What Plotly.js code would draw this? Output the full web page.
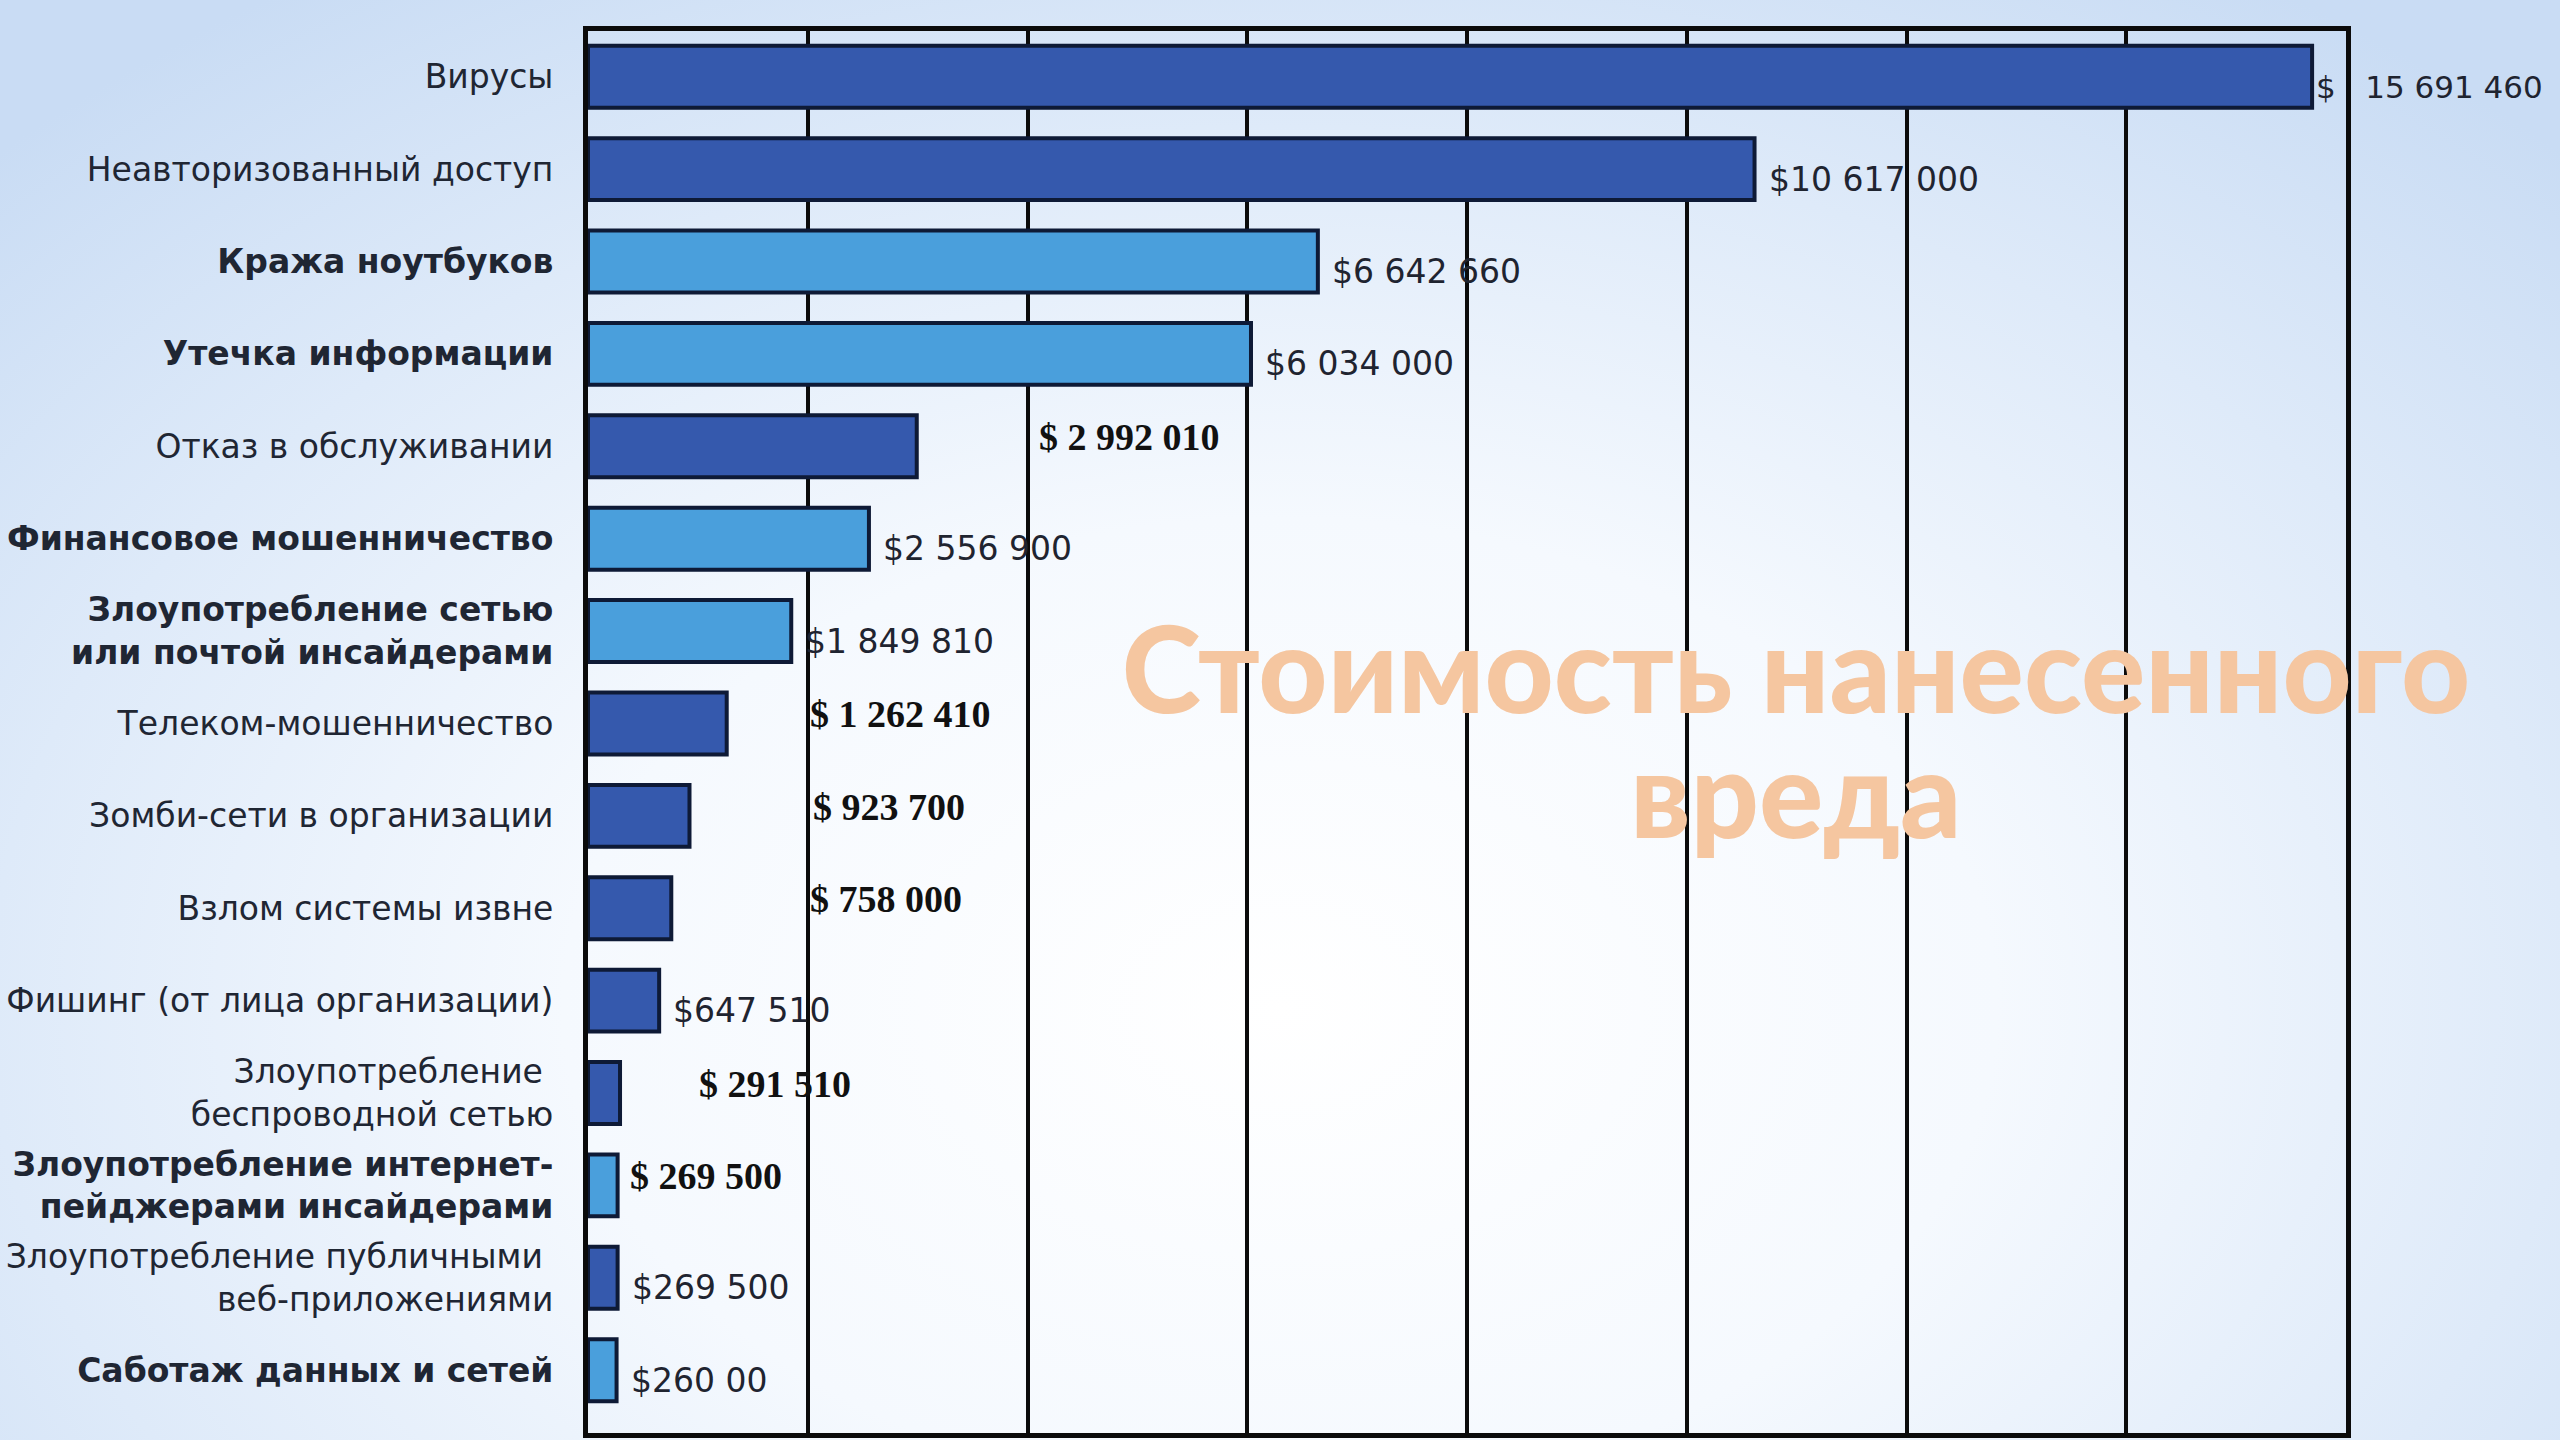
<!DOCTYPE html>
<html><head><meta charset="utf-8">
<script src="https://cdn.plot.ly/plotly-3.0.1.min.js"></script>
<style>
html,body{margin:0;padding:0;width:2560px;height:1440px;overflow:hidden;}
body{background: radial-gradient(ellipse 70% 85% at 50% 70%, #ffffff 0%, #f5f9fe 40%, #deeaf9 72%, #c9dcf4 100%);}
#chart{width:2560px;height:1440px;}
</style></head><body><div id="chart"></div>
<script>
// ---- data ----
const categories = [
  'Вирусы',
  'Неавторизованный доступ',
  'Кража ноутбуков',
  'Утечка информации',
  'Отказ в обслуживании',
  'Финансовое мошенничество',
  'Злоупотребление сетью<br>или почтой инсайдерами',
  'Телеком-мошенничество',
  'Зомби-сети в организации',
  'Взлом системы извне',
  'Фишинг (от лица организации)',
  'Злоупотребление <br>беспроводной сетью',
  'Злоупотребление интернет-<br>пейджерами инсайдерами',
  'Злоупотребление публичными <br>веб-приложениями',
  'Саботаж данных и сетей'
];
const values = [15691460, 10617000, 6642660, 6034000, 2992010, 2556900, 1849810,
                1262410, 923700, 758000, 647510, 291510, 269500, 269500, 260000];
const valueLabels = ['$\u00a0\u00a0\u00a015 691 460', '$10 617 000', '$6 642 660', '$6 034 000',
  '$ 2 992 010', '$2 556 900', '$1 849 810', '$ 1 262 410', '$ 923 700', '$ 758 000',
  '$647 510', '$ 291 510', '$ 269 500', '$269 500', '$260 00'];
const groups = ['a','a','b','b','a','b','b','a','a','a','a','a','b','a','b'];
const xTicks = [0, 2000000, 4000000, 6000000, 8000000, 10000000, 12000000, 14000000, 16000000];
const titleLine1 = 'Стоимость нанесенного';
const titleLine2 = 'вреда';

// ---- styling ----
const serifLabels = new Set([4, 7, 8, 9, 11, 12]);
// extra horizontal offsets (px) of the pasted serif labels, as in the original picture
const serifShift = {4: 120, 7: 81, 8: 122, 9: 137, 11: 77, 12: 10};
const colorFor = {a: '#3559ad', b: '#4a9fdc'};
const barColors = groups.map(g => colorFor[g]);
const tickText = categories.map((c, i) => groups[i] === 'b' ? '<b>' + c + '</b>' : c);

const trace = {
  type: 'bar',
  orientation: 'h',
  y: categories,
  x: values,
  marker: {color: barColors, line: {color: '#0e1a36', width: 4}},
  width: 0.67,
  hoverinfo: 'none'
};

const labelAnnotations = values.map((v, i) => {
  const serif = serifLabels.has(i);
  return {
    x: v, y: categories[i], xref: 'x', yref: 'y',
    text: serif ? '<b>' + valueLabels[i] + '</b>' : valueLabels[i],
    showarrow: false, xanchor: 'left', yanchor: 'middle',
    xshift: serif ? serifShift[i] : (i === 0 ? 2 : 12),
    yshift: serif ? 9 : -10,
    font: serif ? {family: 'Liberation Serif', size: 38, color: '#111111'}
                : {family: 'DejaVu Sans', size: i === 0 ? 31 : 33, color: '#1f2430'}
  };
});

const layout = {
  width: 2560, height: 1440,
  margin: {l: 588, r: 214, t: 31, b: 7},
  paper_bgcolor: 'rgba(0,0,0,0)',
  plot_bgcolor: 'rgba(0,0,0,0)',
  showlegend: false,
  font: {family: 'DejaVu Sans', color: '#1f2633'},
  xaxis: {
    range: [0, 16000000], tickvals: xTicks, showticklabels: false,
    showgrid: true, gridcolor: '#0b0b0b', gridwidth: 4,
    zeroline: false, showline: true, mirror: true, linecolor: '#0b0b0b', linewidth: 5,
    ticks: '', fixedrange: true, automargin: false
  },
  yaxis: {
    type: 'category', categoryorder: 'array', categoryarray: categories,
    tickvals: categories, ticktext: tickText,
    range: [14.68, -0.495],
    showgrid: false, zeroline: false, showline: true, mirror: true,
    linecolor: '#0b0b0b', linewidth: 5, ticks: '',
    ticklabelstandoff: 23,
    tickfont: {family: 'DejaVu Sans', size: 33, color: '#1f2633'},
    automargin: false, fixedrange: true
  },
  title: {
    text: titleLine1,
    font: {family: 'Lato', size: 120, color: '#F5C6A0', weight: 900},
    xref: 'container', yref: 'container',
    x: 0.7016, xanchor: 'center',
    y: 0.534, yanchor: 'middle'
  },
  annotations: labelAnnotations.concat([{
    text: titleLine2, xref: 'paper', yref: 'paper', x: 0.687, y: 0.457,
    xanchor: 'center', yanchor: 'middle', showarrow: false,
    font: {family: 'Lato', size: 120, color: '#F5C6A0', weight: 900}
  }])
};

Plotly.newPlot('chart', [trace], layout, {staticPlot: true, displayModeBar: false});
</script>
</body></html>
